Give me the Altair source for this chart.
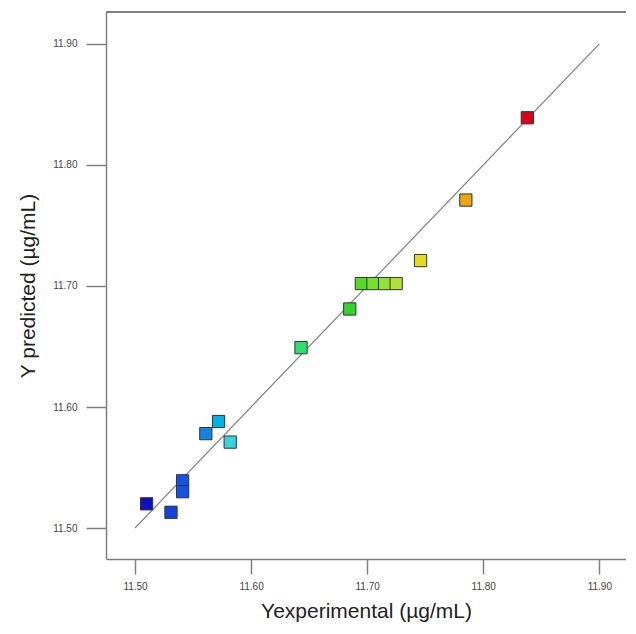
import altair as alt
import pandas as pd

y_experimental = [11.510, 11.531, 11.541, 11.541, 11.561, 11.572, 11.582, 11.643, 11.685,
                  11.695, 11.705, 11.715, 11.725, 11.746, 11.785, 11.838]
y_predicted = [11.520, 11.513, 11.539, 11.530, 11.578, 11.588, 11.571, 11.649, 11.681,
               11.702, 11.702, 11.702, 11.702, 11.721, 11.771, 11.839]
tick_values = [11.50, 11.60, 11.70, 11.80, 11.90]
ref_line = [11.50, 11.90]

pts = pd.DataFrame({"x": y_experimental, "y": y_predicted})
line_df = pd.DataFrame({"x": ref_line, "y": ref_line})

W, H = 520, 547
xdom = [11.475, 11.923]
ydom = [11.4744, 11.9264]

color_domain = [11.51, 11.54, 11.56, 11.58, 11.64, 11.68, 11.70, 11.72, 11.74, 11.78, 11.83]
color_range = ["#1010c0", "#1a50e8", "#2080e0", "#40d0e0", "#30e070", "#20d030",
               "#60e020", "#a0e040", "#e0e020", "#f0b020", "#e00010"]

xaxis = alt.Axis(values=tick_values, format=".2f", title="Yexperimental (µg/mL)",
                 grid=False, tickSize=15, tickColor="#808080", domainColor="#808080",
                 domainWidth=1.5, tickWidth=1.5, labelFontSize=10, labelColor="#444444",
                 labelFont="Liberation Sans", labelPadding=7,
                 titleFont="Liberation Sans", titleFontSize=21, titleFontWeight="normal",
                 titleColor="#222222", titlePadding=9)
yaxis = alt.Axis(values=tick_values, format=".2f", title="Y predicted (µg/mL)",
                 grid=False, tickSize=20, tickColor="#808080", domainColor="#808080",
                 domainWidth=1.5, tickWidth=1.5, labelFontSize=10, labelColor="#444444",
                 labelFont="Liberation Sans", labelPadding=9,
                 titleFont="Liberation Sans", titleFontSize=21, titleFontWeight="normal",
                 titleColor="#222222", titlePadding=14)

xs = alt.Scale(domain=xdom, nice=False, zero=False)
ys = alt.Scale(domain=ydom, nice=False, zero=False)

line = alt.Chart(line_df).mark_line(color="#808080", strokeWidth=1.2).encode(
    x=alt.X("x:Q", scale=xs, axis=xaxis),
    y=alt.Y("y:Q", scale=ys, axis=yaxis),
)

points = alt.Chart(pts).mark_point(shape="square", filled=True, size=150,
                                   stroke="#333333", strokeWidth=1, opacity=1).encode(
    x=alt.X("x:Q", scale=xs),
    y=alt.Y("y:Q", scale=ys),
    color=alt.Color("x:Q", scale=alt.Scale(domain=color_domain, range=color_range), legend=None),
)

top_border = alt.Chart(pts).mark_rule(color="#808080", strokeWidth=1.5).encode(
    x=alt.value(0), x2=alt.value(W + 10), y=alt.value(0)
)

chart = alt.layer(line, points, top_border).properties(
    width=W, height=H,
    autosize=alt.AutoSizeParams(type="none"),
    padding={"left": 98, "top": 4, "right": 0, "bottom": 66},
).configure_view(stroke=None).configure(background="white")

chart.save("out.html", embed_options={"renderer": "svg", "actions": False})
